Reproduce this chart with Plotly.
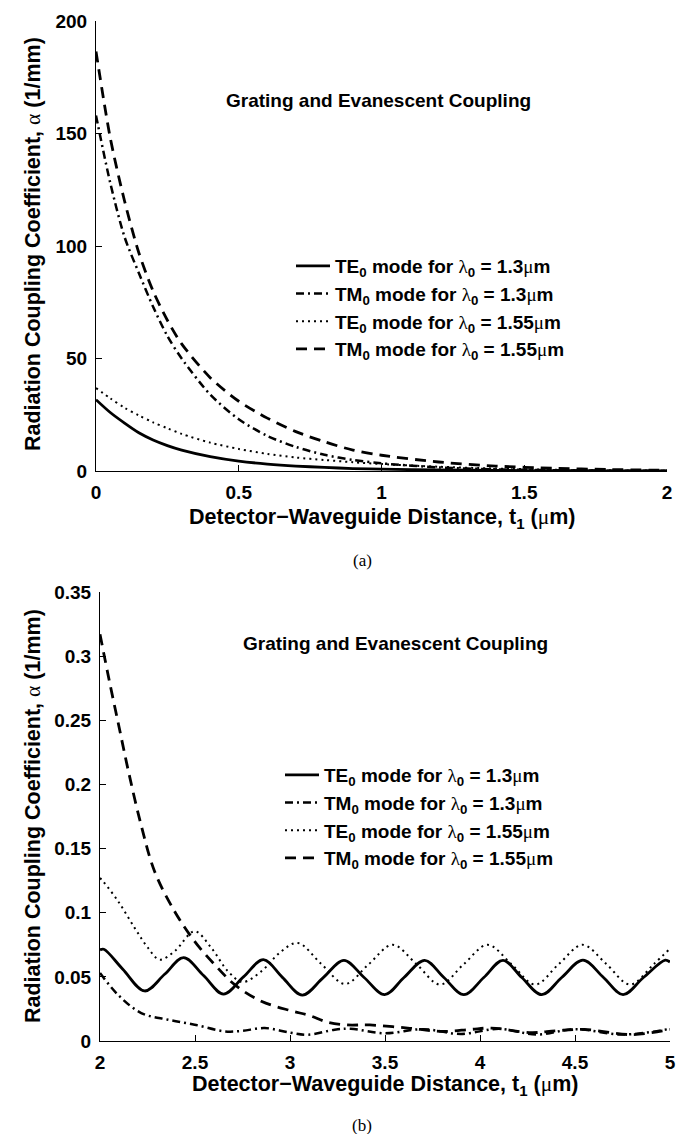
import plotly.graph_objects as go

W, H = 687, 1134

# ---------------- (a) top panel data ----------------
x_top = [0, 0.05, 0.1, 0.15, 0.2, 0.25, 0.3, 0.4, 0.5, 0.6, 0.7, 0.8, 0.9, 1.0, 1.2, 1.4, 1.6, 1.8, 2.0]
te0_13_top = [31.7, 26.0, 21.3, 17.0, 13.8, 11.3, 9.3, 6.4, 4.4, 3.1, 2.2, 1.6, 1.1, 0.8, 0.45, 0.27, 0.16, 0.1, 0.072]
tm0_13_top = [158, 128, 104, 88, 73, 60, 50, 34, 23, 15.6, 10.7, 7.2, 4.9, 3.4, 1.6, 0.75, 0.35, 0.15, 0.055]
te0_155_top = [36.9, 32.3, 28.1, 24.7, 21.6, 19.0, 16.5, 12.6, 9.8, 7.6, 6.0, 4.9, 3.9, 3.1, 1.9, 1.1, 0.6, 0.3, 0.125]
tm0_155_top = [186.5, 148, 120, 97, 80, 67, 56.5, 41.5, 31, 23.5, 17.5, 13, 9.3, 7.0, 4.0, 2.2, 1.2, 0.65, 0.32]

# ---------------- (b) bottom panel data ----------------
te0_13_x = [2.0, 2.02, 2.12, 2.235, 2.34, 2.44, 2.545, 2.65, 2.755, 2.86, 2.96, 3.065, 3.175, 3.284, 3.39,
            3.498, 3.60, 3.709, 3.81, 3.915, 4.02, 4.121, 4.22, 4.325, 4.43, 4.542, 4.65, 4.753, 4.86, 4.975, 5.0]
te0_13_y = [0.071, 0.0715, 0.056, 0.039, 0.052, 0.065, 0.051, 0.0366, 0.050, 0.0634, 0.0496, 0.0358, 0.0494,
            0.0629, 0.0495, 0.0361, 0.0495, 0.0629, 0.0495, 0.0361, 0.0495, 0.0629, 0.0495, 0.0361, 0.0495,
            0.063, 0.0495, 0.0361, 0.0495, 0.063, 0.0615]

te0_155_x = [2.0, 2.016, 2.095, 2.183, 2.253, 2.314, 2.393, 2.498, 2.586, 2.674, 2.75, 2.849, 2.954, 3.042,
             3.165, 3.29, 3.415, 3.54, 3.665, 3.79, 3.915, 4.04, 4.165, 4.29, 4.415, 4.54, 4.665, 4.79, 4.915, 5.0]
te0_155_y = [0.127, 0.1245, 0.109, 0.088, 0.0725, 0.0634, 0.070, 0.0855, 0.0725, 0.0543, 0.046, 0.0543, 0.0699,
             0.0764, 0.060, 0.0445, 0.060, 0.075, 0.060, 0.044, 0.060, 0.075, 0.060, 0.044, 0.060, 0.075, 0.060,
             0.044, 0.060, 0.072]

tm0_155_x = [2.0, 2.05, 2.1, 2.15, 2.217, 2.288, 2.393, 2.498, 2.604, 2.709, 2.849, 3.007, 3.1, 3.2, 3.3, 3.42,
             3.62, 3.8, 3.95, 4.06, 4.27, 4.4, 4.55, 4.8, 5.0]
tm0_155_y = [0.317, 0.28, 0.245, 0.21, 0.168, 0.132, 0.101, 0.0777, 0.0595, 0.0439, 0.031, 0.0235, 0.02, 0.0145,
             0.0125, 0.0125, 0.0101, 0.0075, 0.009, 0.0101, 0.0065, 0.008, 0.009, 0.005, 0.009]

tm0_13_x = [2.0, 2.095, 2.217, 2.358, 2.498, 2.656, 2.744, 2.867, 3.0, 3.095, 3.235, 3.32, 3.5, 3.7, 3.9, 4.1,
            4.3, 4.5, 4.75, 5.0]
tm0_13_y = [0.053, 0.036, 0.0218, 0.0166, 0.0127, 0.0075, 0.0078, 0.0101, 0.0065, 0.0049, 0.0088, 0.0095, 0.006,
            0.0092, 0.0055, 0.0095, 0.005, 0.0092, 0.005, 0.0095]

# tick labels
xt_top = [0, 0.5, 1, 1.5, 2]
xt_top_lbl = ["0", "0.5", "1", "1.5", "2"]
yt_top = [0, 50, 100, 150, 200]
yt_top_lbl = ["0", "50", "100", "150", "200"]
xt_bot = [2, 2.5, 3, 3.5, 4, 4.5, 5]
xt_bot_lbl = ["2", "2.5", "3", "3.5", "4", "4.5", "5"]
yt_bot = [0, 0.05, 0.1, 0.15, 0.2, 0.25, 0.3, 0.35]
yt_bot_lbl = ["0", "0.05", "0.1", "0.15", "0.2", "0.25", "0.3", "0.35"]

SYM = "<span style='font-weight:normal;font-family:Liberation Serif'>{}</span>"
LAM = SYM.format("λ")
MU = SYM.format("μ")
ALPHA = SYM.format("α")

names = [
    f"TE<sub>0</sub> mode for {LAM}<sub>0</sub> = 1.3{MU}m",
    f"TM<sub>0</sub> mode for {LAM}<sub>0</sub> = 1.3{MU}m",
    f"TE<sub>0</sub> mode for {LAM}<sub>0</sub> = 1.55{MU}m",
    f"TM<sub>0</sub> mode for {LAM}<sub>0</sub> = 1.55{MU}m",
]
styles = [
    dict(dash="solid", width=2.8),
    dict(dash="8px,4px,2px,4px", width=2.5),
    dict(dash="2px,4px", width=2.0),
    dict(dash="11px,7px", width=2.8),
]

FONT = "Liberation Sans, Arial, sans-serif"

fig = go.Figure()

top_series = [te0_13_top, tm0_13_top, te0_155_top, tm0_155_top]
for nm, st, ys in zip(names, styles, top_series):
    fig.add_trace(go.Scatter(x=x_top, y=ys, mode="lines", name=nm, xaxis="x", yaxis="y",
                             line=dict(color="black", shape="spline", smoothing=0.8, **st),
                             legend="legend"))

bot_series = [(te0_13_x, te0_13_y), (tm0_13_x, tm0_13_y), (te0_155_x, te0_155_y), (tm0_155_x, tm0_155_y)]
for nm, st, (xs, ys) in zip(names, styles, bot_series):
    fig.add_trace(go.Scatter(x=xs, y=ys, mode="lines", name=nm, xaxis="x2", yaxis="y2",
                             line=dict(color="black", shape="spline", smoothing=1.0, **st),
                             legend="legend2"))

def px_x(p):
    return p / W

def px_y(p):
    return 1 - p / H

def bold(lbls):
    return [f"<b>{s}</b>" for s in lbls]

axis_common = dict(showline=True, linecolor="black", linewidth=1, ticks="inside", ticklen=6,
                   tickcolor="black", showgrid=False, zeroline=False, mirror=False,
                   tickfont=dict(family=FONT, size=19, color="black"),
                   automargin=False)

fig.update_layout(
    width=W, height=H,
    margin=dict(l=0, r=0, t=0, b=0),
    paper_bgcolor="white", plot_bgcolor="white",
    showlegend=True,
    xaxis=dict(domain=[px_x(88), px_x(659)], range=[0, 2], tickvals=xt_top, ticktext=bold(xt_top_lbl),
               anchor="y", ticklabelstandoff=4, **axis_common),
    yaxis=dict(domain=[px_y(463), px_y(13)], range=[0, 200], tickvals=yt_top, ticktext=bold(yt_top_lbl),
               anchor="x", ticklabelstandoff=4, **axis_common),
    xaxis2=dict(domain=[px_x(92), px_x(662)], range=[2, 5], tickvals=xt_bot, ticktext=bold(xt_bot_lbl),
                anchor="y2", ticklabelstandoff=4, **axis_common),
    yaxis2=dict(domain=[px_y(1033), px_y(584)], range=[0, 0.35], tickvals=yt_bot, ticktext=bold(yt_bot_lbl),
                anchor="x2", ticklabelstandoff=4, **axis_common),
    legend=dict(x=px_x(283), y=px_y(239), xanchor="left", yanchor="top", bgcolor="rgba(0,0,0,0)",
                itemwidth=34,
                font=dict(family=FONT, size=19, color="black", weight="bold")),
    legend2=dict(x=px_x(272), y=px_y(748), xanchor="left", yanchor="top", bgcolor="rgba(0,0,0,0)",
                 itemwidth=34,
                 font=dict(family=FONT, size=19, color="black", weight="bold")),
)

tfont = dict(family=FONT, size=21.5, color="black", weight="bold")
ytitle = f"Radiation Coupling Coefficient, {ALPHA} (1/mm)"
xtitle = f"Detector\u2212Waveguide Distance, t<sub>1</sub> ({MU}m)"
ann = [
    dict(text=ytitle, x=px_x(25), y=px_y(236), textangle=-90, font=tfont),
    dict(text=ytitle, x=px_x(25), y=px_y(808), textangle=-90, font=tfont),
    dict(text=xtitle, x=px_x(374), y=px_y(510), font=tfont),
    dict(text=xtitle, x=px_x(377), y=px_y(1077), font=tfont),
    dict(text="Grating and Evanescent Coupling", x=px_x(370), y=px_y(93),
         font=dict(family=FONT, size=19, color="black", weight="bold")),
    dict(text="Grating and Evanescent Coupling", x=px_x(387), y=px_y(635),
         font=dict(family=FONT, size=19, color="black", weight="bold")),
    dict(text="(a)", x=px_x(354), y=px_y(552), font=dict(family="Liberation Serif", size=17, color="black")),
    dict(text="(b)", x=px_x(354), y=px_y(1117), font=dict(family="Liberation Serif", size=17, color="black")),
]
fig.update_layout(annotations=[dict(xref="paper", yref="paper", showarrow=False,
                                    xanchor="center", yanchor="middle", **a) for a in ann])

fig.write_html("out.html")
